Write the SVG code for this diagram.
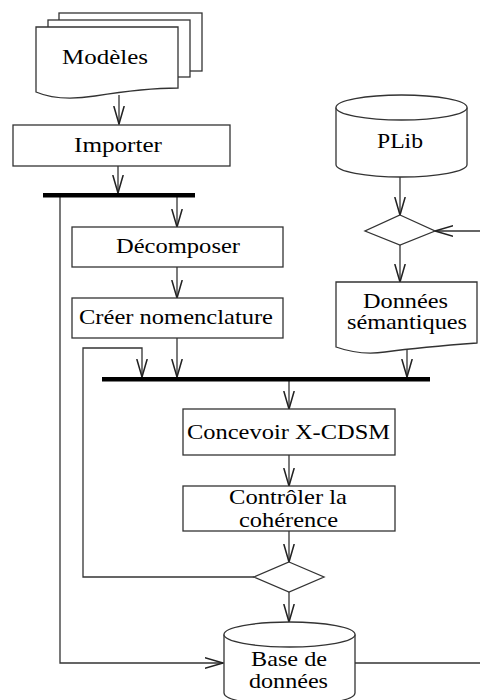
<svg xmlns="http://www.w3.org/2000/svg" width="480" height="700" viewBox="0 0 480 700">
<defs>
<style>
.s{fill:#fff;stroke:#333;stroke-width:1.3}
.c{fill:none;stroke:#333;stroke-width:1.3}
.bar{fill:#000}
text{font-family:"Liberation Serif","Times New Roman",serif;font-size:22px;fill:#000;text-anchor:middle}
</style>
<marker id="v" viewBox="0 0 20 12" refX="19" refY="6" markerWidth="19" markerHeight="12" markerUnits="userSpaceOnUse" orient="auto">
<path d="M0,0.5 L19,6 L0,11.5" fill="none" stroke="#222" stroke-width="1.6"/>
</marker>
</defs>
<rect width="480" height="700" fill="#fff"/>

<g id="connectors">
<path class="c" d="M119,95 V124" marker-end="url(#v)"/>
<path class="c" d="M118,166 V193" marker-end="url(#v)"/>
<path class="c" d="M177,197 V227" marker-end="url(#v)"/>
<path class="c" d="M177,267 V298" marker-end="url(#v)"/>
<path class="c" d="M177,338 V377" marker-end="url(#v)"/>
<path class="c" d="M60,197 V663 H223" marker-end="url(#v)"/>
<path class="c" d="M254,577 H83 V348 H142 V377" marker-end="url(#v)"/>
<path class="c" d="M400,177 V215" marker-end="url(#v)"/>
<path class="c" d="M480,231 H435" marker-end="url(#v)"/>
<path class="c" d="M400,245 V282" marker-end="url(#v)"/>
<path class="c" d="M407,350 V377" marker-end="url(#v)"/>
<path class="c" d="M289,381 V409" marker-end="url(#v)"/>
<path class="c" d="M289,455 V486" marker-end="url(#v)"/>
<path class="c" d="M289,531 V562" marker-end="url(#v)"/>
<path class="c" d="M289,592 V622" marker-end="url(#v)"/>
<path class="c" d="M355,663 H480"/>
</g>

<g id="modeles">
<rect class="s" x="59" y="13" width="143" height="58"/>
<rect class="s" x="48" y="20" width="142" height="57"/>
<path class="s" d="M36,27 H178 V88 C150,88 120,92 95,96 C70,100 50,98 36,92 Z"/>
<text x="105" y="64" textLength="86" lengthAdjust="spacingAndGlyphs">Modèles</text>
</g>

<g id="importer">
<rect class="s" x="13" y="125" width="217" height="41"/>
<text x="118" y="152" textLength="88" lengthAdjust="spacingAndGlyphs">Importer</text>
</g>

<g id="fork1">
<rect class="bar" x="43" y="193" width="152" height="4.5"/>
</g>

<g id="decomposer">
<rect class="s" x="72" y="227" width="211" height="40"/>
<text x="178" y="253" textLength="124" lengthAdjust="spacingAndGlyphs">Décomposer</text>
</g>

<g id="creer">
<rect class="s" x="72" y="298" width="211" height="40"/>
<text x="176" y="324" textLength="194" lengthAdjust="spacingAndGlyphs">Créer nomenclature</text>
</g>

<g id="plib">
<path class="s" d="M336,107.5 V164.5 A65.5,12.5 0 0 0 467,164.5 V107.5"/>
<ellipse class="s" cx="401.5" cy="107.5" rx="65.5" ry="12.5"/>
<text x="400" y="148" textLength="46" lengthAdjust="spacingAndGlyphs">PLib</text>
</g>

<g id="decision1">
<path class="s" d="M400,215 L435,231 L400,245 L365,231 Z"/>
</g>

<g id="donnees-semantiques">
<path class="s" d="M336,282 H477 V343 C450,345 415,348 385,352 C365,355 350,352 336,347 Z"/>
<text x="405.5" y="308" textLength="85" lengthAdjust="spacingAndGlyphs">Données</text>
<text x="407" y="329" textLength="120" lengthAdjust="spacingAndGlyphs">sémantiques</text>
</g>

<g id="fork2">
<rect class="bar" x="102" y="377" width="328" height="4.5"/>
</g>

<g id="concevoir">
<rect class="s" x="183" y="409" width="212" height="46"/>
<text x="288.5" y="439" textLength="203" lengthAdjust="spacingAndGlyphs">Concevoir X-CDSM</text>
</g>

<g id="controler">
<rect class="s" x="183" y="486" width="212" height="45"/>
<text x="288" y="504" textLength="118" lengthAdjust="spacingAndGlyphs">Contrôler la</text>
<text x="288.5" y="527" textLength="99" lengthAdjust="spacingAndGlyphs">cohérence</text>
</g>

<g id="decision2">
<path class="s" d="M289,562 L324,577 L289,592 L254,577 Z"/>
</g>

<g id="base-de-donnees">
<path class="s" d="M224,634.5 V693 A65.5,12.5 0 0 0 355,693 V634.5"/>
<ellipse class="s" cx="289.5" cy="634.5" rx="65.5" ry="12.5"/>
<text x="289" y="666" textLength="76" lengthAdjust="spacingAndGlyphs">Base de</text>
<text x="288.5" y="688" textLength="79" lengthAdjust="spacingAndGlyphs">données</text>
</g>
</svg>
